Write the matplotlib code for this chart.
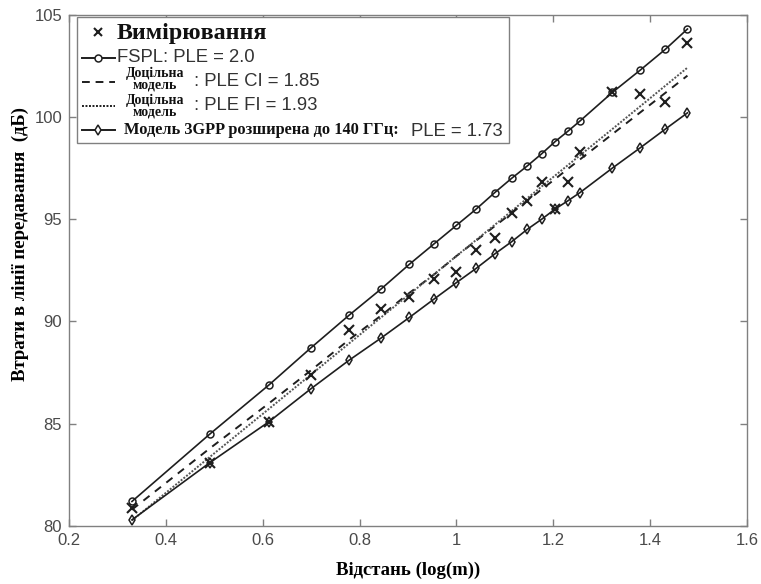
import matplotlib
matplotlib.use("Agg")
import matplotlib.pyplot as plt
from matplotlib.lines import Line2D
from matplotlib.patches import Rectangle

# ---------------- data ----------------
log_dist = [0.33, 0.491, 0.613, 0.699, 0.778, 0.845, 0.903, 0.954, 1.0, 1.041,
            1.079, 1.114, 1.146, 1.176, 1.204, 1.230, 1.255, 1.322, 1.380, 1.431, 1.477]
measured = [80.9, 83.1, 85.1, 87.4, 89.6, 90.6, 91.2, 92.1, 92.4, 93.5,
            94.1, 95.3, 95.9, 96.8, 95.5, 96.8, 98.3, 101.2, 101.1, 100.75, 103.6]
fspl = [81.2, 84.5, 86.9, 88.7, 90.3, 91.6, 92.8, 93.8, 94.7, 95.5,
        96.3, 97.0, 97.6, 98.2, 98.8, 99.3, 99.8, 101.2, 102.3, 103.3, 104.3]
ci_fit = [80.8, 83.8, 86.0, 87.6, 89.1, 90.3, 91.4, 92.3, 93.2, 93.96,
          94.66, 95.3, 95.9, 96.46, 96.97, 97.46, 97.92, 99.16, 100.23, 101.17, 102.02]
fi_fit = [80.27, 83.38, 85.73, 87.39, 88.92, 90.21, 91.33, 92.31, 93.2, 93.99,
          94.72, 95.4, 96.02, 96.6, 97.14, 97.64, 98.12, 99.41, 100.53, 101.52, 102.41]
gpp = [80.3, 83.1, 85.1, 86.7, 88.1, 89.2, 90.2, 91.1, 91.9, 92.6,
       93.3, 93.9, 94.5, 95.0, 95.5, 95.9, 96.3, 97.5, 98.5, 99.4, 100.2]

x_ticks = [0.2, 0.4, 0.6, 0.8, 1.0, 1.2, 1.4, 1.6]
x_ticklabels = ["0.2", "0.4", "0.6", "0.8", "1", "1.2", "1.4", "1.6"]
y_ticks = [80, 85, 90, 95, 100, 105]

lbl_meas = "Вимірювання"
lbl_fspl = "FSPL: PLE = 2.0"
lbl_fit_words = "Доцільна\nмодель"
lbl_ci = ": PLE CI = 1.85"
lbl_fi = ": PLE FI = 1.93"
lbl_gpp = "Модель 3GPP розширена до 140 ГГц:"
lbl_gpp_ple = "PLE = 1.73"
x_label = "Відстань (log(m))"
y_label = "Втрати в лінії передавання  (дБ)"

# ---------------- figure ----------------
W, H = 761, 584
fig = plt.figure(figsize=(W / 100, H / 100), dpi=100)
AX_L, AX_R, AX_T, AX_B = 69, 747, 14.7, 526
ax = fig.add_axes([AX_L / W, 1 - AX_B / H, (AX_R - AX_L) / W, (AX_B - AX_T) / H])

SANS = "Liberation Sans"
SERIF = "Liberation Serif"
INK = "#1e1e1e"
GRAY = "#808080"

ax.plot(log_dist, fspl, color=INK, lw=1.2, marker="o", ms=5, mfc="none", mew=1.1, zorder=3)
ax.plot(log_dist, ci_fit, color=INK, lw=1.4, ls=(0, (4, 3.5)), zorder=3)
ax.plot(log_dist, fi_fit, color="#555555", lw=1.4, ls=(0, (1, 0.8)), zorder=3)
ax.plot(log_dist, gpp, color=INK, lw=1.2, marker="d", ms=5.5, mfc="none", mew=1.1, zorder=3)
ax.plot(log_dist, measured, ls="none", color=INK, marker="x", ms=6.5, mew=1.5, zorder=4)

ax.set_xlim(0.2, 1.6)
ax.set_ylim(80, 105)
ax.set_xticks(x_ticks)
ax.set_xticklabels(x_ticklabels)
ax.set_yticks(y_ticks)
for s in ax.spines.values():
    s.set_color(GRAY)
    s.set_linewidth(1.0)
ax.tick_params(direction="in", length=5, width=1.0, color=GRAY, top=True, right=True,
               labelsize=12, labelcolor="#4a4a4a", pad=5)
for t in ax.get_xticklabels() + ax.get_yticklabels():
    t.set_fontfamily(SANS)

fig.text((AX_L + AX_R) / 2 / W, 1 - 570 / H, x_label, ha="center", va="center",
         family=SERIF, weight="bold", fontsize=13.5)
fig.text(20 / W, 1 - 244 / H, y_label, ha="center", va="center", rotation=90,
         family=SERIF, weight="bold", fontsize=13.5)

# ---------------- manual MATLAB-style legend ----------------
def ap(px, py):
    return ((px - AX_L) / (AX_R - AX_L), (AX_B - py) / (AX_B - AX_T))

x0, y0 = ap(77, 143)
x1, y1 = ap(509, 17)
ax.add_patch(Rectangle((x0, y0), x1 - x0, y1 - y0, transform=ax.transAxes,
                       facecolor="white", edgecolor=GRAY, lw=1.0, zorder=5))

def sample(py, **kw):
    xa, ya = ap(82, py)
    xb, _ = ap(115, py)
    ax.add_line(Line2D([xa, xb], [ya, ya], transform=ax.transAxes, color=INK, zorder=6, **kw))

def marker(py, m, **kw):
    xa, ya = ap(98, py)
    ax.add_line(Line2D([xa], [ya], transform=ax.transAxes, ls="none", marker=m,
                       color=INK, zorder=7, **kw))

def txt(px, py, s, ha="left", color="#111111", **kw):
    xa, ya = ap(px, py)
    ax.text(xa, ya, s, transform=ax.transAxes, ha=ha, va="center", color=color, zorder=7, **kw)

marker(32, "x", ms=6, mew=1.5)
txt(117, 34, lbl_meas, family=SERIF, weight="bold", fontsize=17.3)

sample(58, lw=1.4)
marker(58, "o", ms=5, mfc="white", mew=1.1)
txt(117, 57.5, lbl_fspl, family=SANS, fontsize=13.3, color="#333333")

sample(82, lw=1.4, ls=(0, (4, 3)))
txt(155, 79, lbl_fit_words, ha="center", family=SERIF, weight="bold", fontsize=10,
    linespacing=0.85, multialignment="center")
txt(194, 82, lbl_ci, family=SANS, fontsize=13.3, color="#333333")

sample(106, lw=1.4, ls=(0, (1, 0.8)))
txt(155, 106.5, lbl_fit_words, ha="center", family=SERIF, weight="bold", fontsize=10,
    linespacing=0.85, multialignment="center")
txt(194, 106, lbl_fi, family=SANS, fontsize=13.3, color="#333333")

sample(130, lw=1.4)
marker(130, "d", ms=5.5, mfc="white", mew=1.1)
txt(124, 130, lbl_gpp, family=SERIF, weight="bold", fontsize=11.8)
txt(411, 131, lbl_gpp_ple, family=SANS, fontsize=13.3, color="#333333")

fig.savefig("out.png", dpi=100)
